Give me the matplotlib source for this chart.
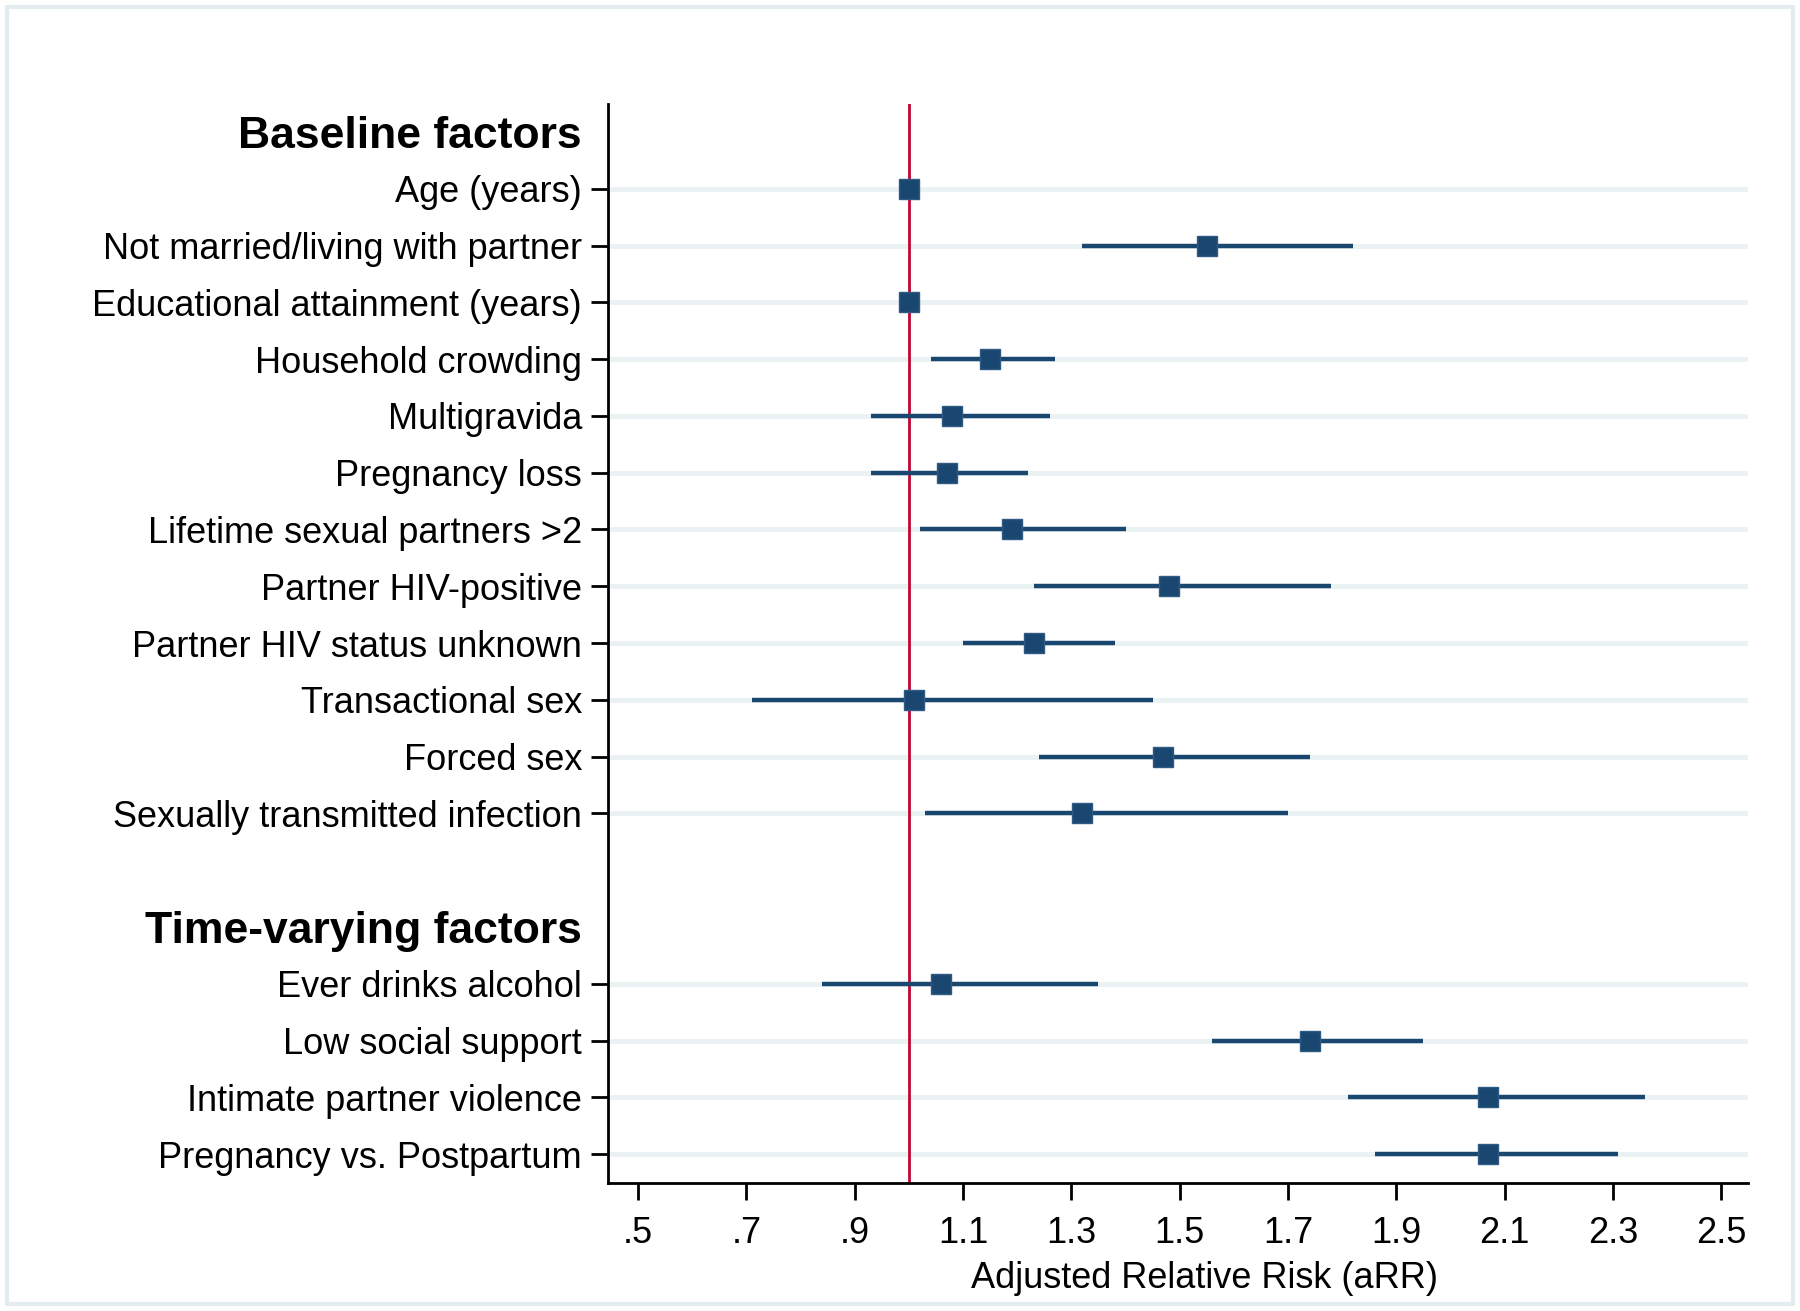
import matplotlib.pyplot as plt
from matplotlib.patches import Rectangle

plt.rcParams['font.family'] = ['Liberation Sans', 'DejaVu Sans']

baseline_labels = ["Age (years)", "Not married/living with partner", "Educational attainment (years)",
                   "Household crowding", "Multigravida", "Pregnancy loss", "Lifetime sexual partners >2",
                   "Partner HIV-positive", "Partner HIV status unknown", "Transactional sex", "Forced sex",
                   "Sexually transmitted infection"]
baseline_rr = [1.00, 1.55, 1.00, 1.15, 1.08, 1.07, 1.19, 1.48, 1.23, 1.01, 1.47, 1.32]
baseline_lo = [0.99, 1.32, 0.99, 1.04, 0.93, 0.93, 1.02, 1.23, 1.10, 0.71, 1.24, 1.03]
baseline_hi = [1.01, 1.82, 1.01, 1.27, 1.26, 1.22, 1.40, 1.78, 1.38, 1.45, 1.74, 1.70]

timevar_labels = ["Ever drinks alcohol", "Low social support", "Intimate partner violence",
                  "Pregnancy vs. Postpartum"]
timevar_rr = [1.06, 1.74, 2.07, 2.07]
timevar_lo = [0.84, 1.56, 1.81, 1.86]
timevar_hi = [1.35, 1.95, 2.36, 2.31]

headers = ["Baseline factors", "Time-varying factors"]
xticks = [0.5, 0.7, 0.9, 1.1, 1.3, 1.5, 1.7, 1.9, 2.1, 2.3, 2.5]
xtick_labels = [".5", ".7", ".9", "1.1", "1.3", "1.5", "1.7", "1.9", "2.1", "2.3", "2.5"]

navy = "#1a476f"
grid_col = "#eaf2f3"

# row positions: header, rows, blank, header, rows
base_pos = list(range(1, 1 + len(baseline_labels)))
tv_header = base_pos[-1] + 2
tv_pos = list(range(tv_header + 1, tv_header + 1 + len(timevar_labels)))
header_pos = [0, tv_header]

fig = plt.figure(figsize=(18, 13.11), dpi=100)
ax = fig.add_axes([0.338, 0.098, 0.633, 0.823])

rows = base_pos + tv_pos
rr = baseline_rr + timevar_rr
lo = baseline_lo + timevar_lo
hi = baseline_hi + timevar_hi

for y in rows:
    ax.axhline(y, color=grid_col, lw=3.5, zorder=0)
ax.axvline(1.0, color="#c10534", lw=2, zorder=2)
ax.hlines(rows, lo, hi, color=navy, lw=3.2, zorder=3)
ax.plot(rr, rows, "s", color=navy, markersize=15, markeredgecolor="#2f5a85",
        markeredgewidth=1, zorder=4)

ticks = header_pos[:1] + base_pos + header_pos[1:] + tv_pos
labels = headers[:1] + baseline_labels + headers[1:] + timevar_labels
ax.set_yticks(ticks)
ax.set_yticklabels(labels)
ax.set_ylim(len(ticks) + 0.5, -0.5)
ax.set_xlim(0.445, 2.549)
ax.set_xticks(xticks)
ax.set_xticklabels(xtick_labels)

ax.tick_params(axis="y", length=12, width=2, pad=7, labelsize=26)
ax.tick_params(axis="x", length=12, width=2, pad=12, labelsize=26)
for t, lab in zip(ax.yaxis.get_major_ticks(), labels):
    if lab in headers:
        t.tick1line.set_visible(False)
        t.label1.set_fontweight("bold")
        t.label1.set_fontsize(32)

for s in ["top", "right"]:
    ax.spines[s].set_visible(False)
for s in ["left", "bottom"]:
    ax.spines[s].set_linewidth(2)

ax.set_xlabel("Adjusted Relative Risk (aRR)", fontsize=26)
ax.xaxis.set_label_coords(0.523, -0.073)

fig.patches.append(Rectangle((0.004, 0.005), 0.992, 0.99, transform=fig.transFigure,
                             fill=False, edgecolor="#e3ecee", lw=3))

fig.savefig("out.png", dpi=100)
